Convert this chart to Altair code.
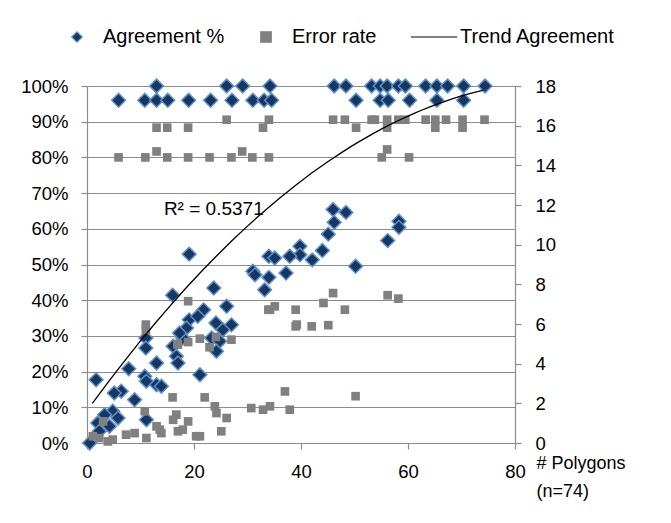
import altair as alt
import pandas as pd

# ---- data ----
agreement_polygons = [
    13.0, 26.1, 29.1, 34.2, 46.2, 48.4, 53.2, 54.8, 56.1, 58.2, 59.5, 63.3, 65.4, 67.4, 70.4, 74.4,
    5.9, 10.8, 13.0, 15.1, 19.0, 23.1, 27.1, 31.0, 33.1, 34.5, 50.3, 54.8, 56.3, 60.3, 65.4, 70.4,
    46.0, 48.4, 46.2, 45.1, 44.0, 42.1, 50.2, 56.2, 58.3, 58.3, 39.8, 39.8,
    19.1, 23.7, 34.0, 35.1, 37.9, 31.0, 31.4, 34.0, 37.2, 33.2, 21.8, 26.1, 19.1, 20.7, 24.1, 27.0,
    25.4, 18.6, 17.9, 23.3, 24.8, 24.2,
    16.0, 17.3, 11.0, 11.0, 16.1, 16.7, 13.0, 7.8, 17.0, 21.1, 10.8,
    1.7, 6.4, 8.9, 11.1, 13.0, 13.9, 5.1, 4.8, 3.3, 5.8, 2.0, 4.2, 11.1, 0.5, 2.3,
]
agreement_pct = [
    100, 100, 100, 100, 100, 100, 100, 100, 100, 100, 100, 100, 100, 100, 100, 100,
    96, 96, 96, 96, 96, 96, 96, 96, 96, 96, 96, 96, 96, 96, 96, 96,
    65.4, 64.6, 61.8, 58.5, 53.9, 51.3, 49.5, 56.7, 62.1, 60.4, 55.1, 52.7,
    52.9, 43.4, 52.3, 51.8, 52.3, 48.1, 47.1, 46.4, 47.6, 42.9, 37.3, 38.3, 34.5, 35.5, 33.6, 33.1,
    31.7, 32.2, 29.4, 29.4, 28.5, 25.7,
    41.4, 30.8, 29.4, 26.6, 27.1, 24.3, 22.4, 20.8, 22.4, 19.1, 18.7,
    17.7, 14.5, 12.1, 17.3, 16.3, 15.9, 14.0, 8.9, 7.9, 7.0, 5.6, 4.7, 6.5, 0.0, 3.3,
]

error_polygons = [
    26.1, 34.0, 46.0, 48.2, 53.2, 53.8, 56.1, 58.2, 59.5, 63.3, 65.1, 67.1, 70.2, 74.3,
    13.0, 15.0, 18.9, 32.9, 50.3, 56.1, 65.1, 70.2,
    13.0, 29.0, 56.1,
    5.9, 10.9, 15.0, 18.9, 22.9, 27.0, 30.9, 34.0, 55.1, 60.2,
    46.0, 44.2, 48.2, 56.2, 58.2, 42.0, 45.1, 50.2, 18.9, 34.2, 35.1, 39.0, 39.0,
    21.1, 24.1, 27.0, 18.9, 22.9, 11.0, 11.0, 17.0, 16.0, 10.8, 16.7, 18.9, 16.1,
    3.0, 13.6, 17.9, 1.1, 2.3, 4.8, 7.3, 8.9, 11.1, 3.9, 20.4,
    30.7, 32.9, 34.2, 37.9, 37.0, 23.9, 24.2, 26.1, 25.1, 21.1, 17.0, 13.0, 13.9,
    22.0, 16.9, 39.2, 33.9,
]
error_rate = [
    16.3, 16.3, 16.3, 16.3, 16.3, 16.3, 16.3, 16.3, 16.3, 16.3, 16.3, 16.3, 16.3, 16.3,
    15.9, 15.9, 15.9, 15.9, 15.9, 15.9, 15.9, 15.9,
    14.7, 14.7, 14.8,
    14.4, 14.4, 14.4, 14.4, 14.4, 14.4, 14.4, 14.4, 14.4, 14.4,
    7.56, 7.06, 6.72, 7.45, 7.28, 5.88, 5.94, 2.36, 7.15, 6.72, 6.89, 6.72, 5.88,
    5.26, 5.35, 5.21, 5.09, 4.83, 5.97, 5.71, 4.96, 2.3, 1.6, 1.43, 1.09, 1.17,
    1.09, 0.67, 0.67, 0.34, 0.25, 0.17, 0.42, 0.5, 0.25, 0.08, 0.34,
    1.76, 1.68, 1.85, 1.68, 2.6, 1.85, 1.51, 1.26, 0.59, 0.34, 0.59, 0.84, 0.5,
    2.3, 4.99, 5.97, 6.72,
]

# points
trend_polygons = [1.0, 5.1, 10.8, 19.8, 32.3, 38.5, 47.3, 55.4, 64.8, 74.1]
trend_pct = [11.2, 19.1, 29.4, 46.2, 63.9, 72.8, 80.3, 87.8, 93.8, 99.6]

series_names = ["Agreement %", "Error rate", "Trend Agreement"]
pct_ticks = [0, 10, 20, 30, 40, 50, 60, 70, 80, 90, 100]
err_ticks = [0, 2, 4, 6, 8, 10, 12, 14, 16, 18]
x_ticks = [0, 20, 40, 60, 80]
r2_label = ["R\u00b2 = 0.5371"]
r2_pos = [(23.7, 65.5)]

agree_df = pd.DataFrame({"polygons": agreement_polygons, "value": agreement_pct,
                         "series": "Agreement %"})
err_df = pd.DataFrame({"polygons": error_polygons, "value": error_rate,
                       "series": "Error rate"})
trend_df = pd.DataFrame({"polygons": trend_polygons, "value": trend_pct})
r2_df = pd.DataFrame({"polygons": [p[0] for p in r2_pos], "value": [p[1] for p in r2_pos],
                      "label": r2_label})

FONT = "Liberation Sans"
GRID = "#8C8C8C"

x_enc = alt.X(
    "polygons:Q",
    scale=alt.Scale(domain=[0, 80], nice=False, zero=False),
    axis=alt.Axis(
        values=x_ticks, grid=False, tickSize=6, labelPadding=13, labelFlush=False,
        title=["# Polygons", "(n=74)"], titleX=449, titleY=11,
        titleAlign="left", titleBaseline="top", titleLineHeight=28,
        titleFontWeight="normal", titleFontSize=18, titleFont=FONT,
        titleColor="black", titleAngle=0,
    ),
)

legend = alt.Legend(
    orient="none", legendX=-20, legendY=-59, direction="horizontal", columns=3,
    title=None, labelFontSize=20, labelFont=FONT, labelColor="black",
    symbolSize=110, symbolStrokeWidth=1.2, labelOffset=16, columnPadding=31,
    padding=0,
)
shape_scale = alt.Scale(domain=series_names, range=["diamond", "square", "M-4.4,0H4.4"])
fill_scale = alt.Scale(domain=series_names, range=["#17375E", "#808080", "#000000"])
stroke_scale = alt.Scale(domain=series_names, range=["#5A8ED0", "#808080", "#000000"])

left_y_scale = alt.Scale(domain=[0, 100], nice=False)

agree_points = alt.Chart(agree_df).mark_point(
    filled=True, size=190, strokeWidth=1.5, opacity=1
).encode(
    x=x_enc,
    y=alt.Y("value:Q", scale=left_y_scale,
            axis=alt.Axis(values=pct_ticks, labelExpr="datum.value + '%'", grid=True,
                          gridColor=GRID, gridWidth=1, tickSize=6, labelPadding=13,
                          labelFlush=False, title=None, orient="left")),
    shape=alt.Shape("series:N", scale=shape_scale, legend=legend),
    fill=alt.Fill("series:N", scale=fill_scale, legend=legend),
    stroke=alt.Stroke("series:N", scale=stroke_scale, legend=legend),
)

err_points = alt.Chart(err_df).mark_point(
    filled=True, size=75, strokeWidth=0, opacity=1
).encode(
    x=x_enc,
    y=alt.Y("value:Q", scale=alt.Scale(domain=[0, 18], nice=False),
            axis=alt.Axis(values=err_ticks, grid=False, tickSize=6, labelPadding=14,
                          labelFlush=False, title=None, orient="right")),
    shape=alt.Shape("series:N", scale=shape_scale, legend=legend),
    fill=alt.Fill("series:N", scale=fill_scale, legend=legend),
    stroke=alt.Stroke("series:N", scale=stroke_scale, legend=legend),
)

trend = alt.Chart(trend_df).transform_regression(
    "polygons", "value", method="poly", order=2
).mark_line(color="black", strokeWidth=1.3).encode(
    x=alt.X("polygons:Q"),
    y=alt.Y("value:Q", scale=left_y_scale, axis=None),
)

r2_text = alt.Chart(r2_df).mark_text(
    fontSize=19, font=FONT, color="black", align="center", baseline="middle"
).encode(
    x=alt.X("polygons:Q"),
    y=alt.Y("value:Q", scale=left_y_scale, axis=None),
    text="label:N",
)

chart = alt.layer(agree_points, err_points, trend, r2_text).resolve_scale(
    y="independent"
).properties(
    width=428, height=357,
    autosize=alt.AutoSizeParams(type="none"),
    padding={"left": 79, "top": 78, "right": 140, "bottom": 60},
    background="white",
).configure_view(stroke=None).configure_axis(
    labelFont=FONT, labelFontSize=18.5, labelColor="black",
    domainColor=GRID, tickColor=GRID, domainWidth=1.2, tickWidth=1.2,
    labelOverlap=False,
)

chart.save("out.html", embed_options={"renderer": "svg", "actions": False})
